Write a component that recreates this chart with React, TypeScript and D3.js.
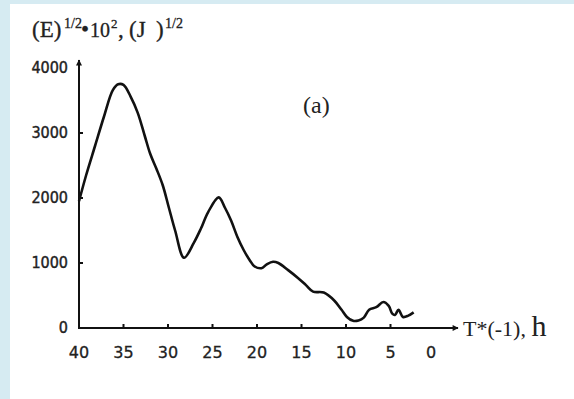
import { useEffect, useRef } from 'react'
import * as d3 from 'd3'

// hours (read right-to-left on the axis) and the plotted value
const HOURS = [
  40.0, 39.2, 38.2, 37.2, 36.2, 35.6, 35.0, 34.2, 33.4, 32.6, 32.0, 31.3, 30.6, 29.9, 29.2,
  28.2, 27.1, 26.3, 25.5, 24.3, 23.6, 22.9, 22.2, 21.5, 20.8, 20.3, 19.5, 18.9, 18.2, 17.6,
  16.5, 15.4, 14.5, 13.7, 12.5, 11.3, 10.5, 9.9, 9.2, 8.6, 8.0, 7.4, 6.6, 5.8, 5.2, 4.8,
  4.5, 4.1, 3.6, 3.0, 2.4,
]
const VALUES = [
  1950, 2350, 2800, 3250, 3660, 3750, 3740, 3560, 3310, 2950, 2680, 2450, 2200, 1850, 1500,
  1080, 1310, 1530, 1780, 2010, 1850, 1650, 1400, 1200, 1040, 950, 920, 980, 1020, 1000,
  890, 770, 660, 560, 545, 420, 280, 170, 110, 115, 160, 280, 320, 400, 340, 220,
  200, 280, 170, 190, 240,
]
const X_TICKS = [40, 35, 30, 25, 20, 15, 10, 5, 0]
const Y_TICKS = [0, 1000, 2000, 3000, 4000]

export default function App() {
  const ref = useRef<SVGSVGElement>(null)

  useEffect(() => {
    document.body.style.margin = '0'
    const W = 574, H = 399
    const svg = d3.select(ref.current)
    svg.selectAll('*').remove()
    svg.attr('width', W).attr('height', H).attr('viewBox', `0 0 ${W} ${H}`)

    svg.append('rect').attr('width', W).attr('height', H).attr('fill', '#d6ebf2')
    svg.append('rect').attr('x', 10).attr('y', 4).attr('width', W - 10).attr('height', H - 4).attr('fill', '#fff')

    const x = d3.scaleLinear().domain([40, 0]).range([79, 435])
    const y = d3.scaleLinear().domain([0, 4000]).range([328, 68])
    const ink = '#111'

    const defs = svg.append('defs')
    defs.append('marker').attr('id', 'arr').attr('viewBox', '0 0 10 10')
      .attr('refX', 9).attr('refY', 5).attr('markerWidth', 8).attr('markerHeight', 6)
      .attr('markerUnits', 'userSpaceOnUse').attr('orient', 'auto')
      .append('path').attr('d', 'M0,0L10,5L0,10z').attr('fill', ink)

    // axes
    svg.append('line').attr('x1', x(40)).attr('x2', 458).attr('y1', y(0)).attr('y2', y(0))
      .attr('stroke', ink).attr('stroke-width', 2).attr('marker-end', 'url(#arr)')
    svg.append('line').attr('x1', x(40)).attr('x2', x(40)).attr('y1', y(0) + 1).attr('y2', 60)
      .attr('stroke', ink).attr('stroke-width', 2).attr('marker-end', 'url(#arr)')

    svg.selectAll('.xt').data(X_TICKS.filter(d => d > 0 && d < 40)).join('line')
      .attr('x1', d => x(d)).attr('x2', d => x(d)).attr('y1', y(0)).attr('y2', y(0) - 4)
      .attr('stroke', ink).attr('stroke-width', 2)
    svg.selectAll('.yt').data(Y_TICKS.filter(d => d > 0 && d < 4000)).join('line')
      .attr('x1', x(40)).attr('x2', x(40) + 4).attr('y1', d => y(d)).attr('y2', d => y(d))
      .attr('stroke', ink).attr('stroke-width', 2)

    svg.append('g').selectAll('text').data(X_TICKS).join('text')
      .attr('x', d => x(d) - (d === 0 ? 4 : 0)).attr('y', 358).attr('text-anchor', 'middle')
      .attr('font-family', 'DejaVu Sans').attr('font-size', 16).attr('fill', '#222')
      .attr('stroke', '#222').attr('stroke-width', 0.3)
      .text(d => d)
    svg.append('g').selectAll('text').data(Y_TICKS).join('text')
      .attr('x', 68).attr('y', d => y(d) + 5).attr('text-anchor', 'end')
      .attr('font-family', 'DejaVu Sans Condensed, DejaVu Sans').attr('font-size', 16)
      .attr('fill', '#222').attr('stroke', '#222').attr('stroke-width', 0.4)
      .text(d => d)

    // curve
    const pts = HOURS.map((h, i) => [h, VALUES[i]] as [number, number])
    const line = d3.line<[number, number]>().x(d => x(d[0])).y(d => y(d[1])).curve(d3.curveCatmullRom.alpha(0.5))
    svg.append('path').datum(pts).attr('d', line).attr('fill', 'none')
      .attr('stroke', ink).attr('stroke-width', 2.6).attr('stroke-linejoin', 'round')

    // labels
    const serif = 'Liberation Serif, Times New Roman, serif'
    const title = svg.append('text').attr('y', 37)
      .attr('font-family', serif).attr('font-size', 23).attr('fill', '#222')
      .attr('stroke', '#222').attr('stroke-width', 0.3)
    title.append('tspan').attr('x', 32).text('(E)')
    title.append('tspan').attr('x', 64).attr('font-size', 14).attr('dy', -9).text('1/2')
    title.append('tspan').attr('x', 81).attr('dy', 9).text('•')
    title.append('tspan').attr('x', 90).attr('font-size', 20).text('10')
    title.append('tspan').attr('x', 111).attr('font-size', 13).attr('dy', -9).text('2')
    title.append('tspan').attr('x', 118).attr('dy', 9).text(',')
    title.append('tspan').attr('x', 129).text('(J')
    title.append('tspan').attr('x', 156).text(')')
    title.append('tspan').attr('x', 165).attr('font-size', 14).attr('dy', -9).text('1/2')

    svg.append('text').attr('x', 303).attr('y', 113).attr('font-family', serif)
      .attr('font-size', 24).attr('fill', '#222').text('(a)')

    const xl = svg.append('text').attr('x', 463).attr('y', 336).attr('font-family', serif)
      .attr('font-size', 22).attr('fill', '#222')
    xl.append('tspan').text('T*(-1), ')
    xl.append('tspan').attr('font-size', 30).text('h')
  }, [])

  return <svg ref={ref} style={{ display: 'block' }} />
}
